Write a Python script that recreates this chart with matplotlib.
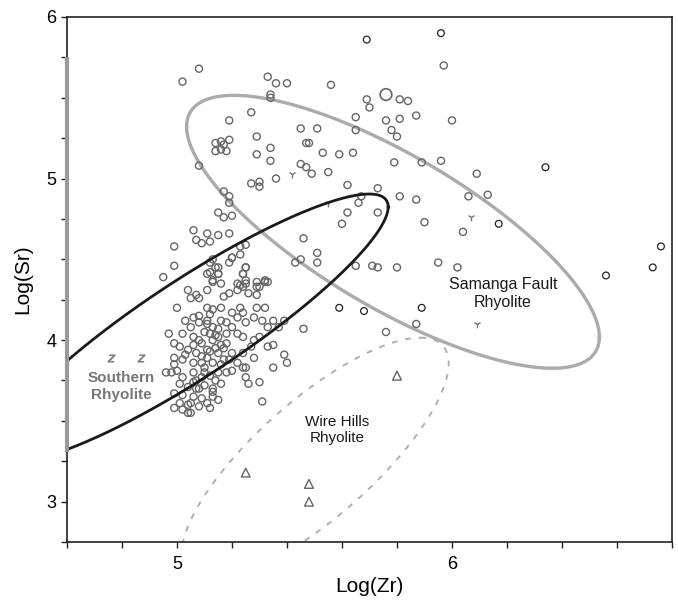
import numpy as np
import matplotlib
matplotlib.use("Agg")
import matplotlib.pyplot as plt

plt.rcParams['font.family'] = ['Liberation Sans', 'DejaVu Sans']

# ---------------- data (Log Zr, Log Sr) ----------------
grey_x = [5.08, 5.02, 5.33, 5.36, 5.40, 5.56, 5.34, 5.34, 5.27, 5.19, 5.45, 5.51, 5.29,
          5.14, 5.16, 5.17, 5.19, 5.14, 5.16, 5.18, 5.34, 5.47, 5.48, 5.53, 5.59, 5.64,
          5.29, 5.34, 5.45, 5.47, 5.49, 5.55, 5.08, 5.27, 5.30, 5.30, 5.36, 5.17, 5.19,
          5.19, 5.15, 5.17, 5.20, 5.06, 5.07, 5.09, 5.11, 5.15, 5.12, 5.19, 4.99, 4.99,
          4.95, 5.46, 5.51, 5.51, 5.43, 5.45, 5.23, 5.25, 5.20, 5.25, 5.12, 5.15, 5.11,
          5.15, 5.13, 5.24, 5.25, 5.29, 5.33,
          5.69, 5.70, 5.81, 5.84, 5.65, 5.65, 5.76, 5.81, 5.87, 6.00, 5.78, 5.80, 5.79,
          5.89, 5.96, 6.09, 6.13, 6.06, 5.81, 5.87, 5.62, 5.67, 5.66, 5.73, 5.73, 5.62,
          5.60, 5.90, 6.04, 5.71, 5.73, 5.65, 5.80, 5.95, 6.02, 5.97,
          5.87, 5.76, 5.46, 5.39, 5.39, 5.40, 5.35, 5.30, 5.26, 5.31, 5.25,
          4.97, 4.99, 4.99, 4.99, 4.98, 4.96,
          5.00, 5.04, 5.07, 5.08, 5.11, 5.05, 5.11, 5.13, 5.16, 5.17, 5.19, 5.22, 5.24,
          5.26, 5.29, 5.32, 5.29, 5.32, 5.23, 5.24, 5.20, 5.03, 5.06, 5.08, 5.11, 5.13,
          5.16, 5.18, 5.22, 5.25, 5.28, 5.31, 5.33, 5.37, 5.35, 5.02, 5.06, 5.08, 5.12,
          5.15, 5.18, 5.22, 5.24, 5.28, 5.30, 5.33, 5.35, 5.01, 5.04, 5.07, 5.11, 5.15,
          5.17, 5.20, 5.24, 5.27, 5.02, 5.06, 5.09, 5.13, 5.16, 5.19, 5.22, 5.25, 5.28,
          5.00, 5.02, 5.06, 5.09, 5.12, 5.15, 5.18, 5.20, 5.24, 5.01, 5.04, 5.07, 5.10,
          5.13, 5.16, 4.99, 5.02, 5.06, 5.09, 5.13, 5.01, 5.05, 5.08, 5.11, 5.15, 5.02,
          5.05, 4.99, 5.04,
          5.13, 5.14, 5.19, 5.20, 5.23, 5.12, 5.15, 5.16, 5.13, 5.25, 5.24, 5.25, 5.23,
          5.22, 5.29, 5.32, 5.30,
          5.10, 5.13, 5.09, 5.14, 5.11, 5.12, 5.15, 5.10, 5.07, 5.14, 5.18, 5.20, 5.08,
          5.05, 5.11, 5.12, 5.09, 5.14, 5.17, 5.06, 5.10, 5.13, 5.03, 5.16, 5.08, 5.12,
          5.04, 5.06]
grey_y = [5.68, 5.60, 5.63, 5.59, 5.59, 5.58, 5.52, 5.50, 5.41, 5.36, 5.31, 5.31, 5.26,
          5.22, 5.23, 5.21, 5.24, 5.17, 5.18, 5.17, 5.19, 5.22, 5.22, 5.16, 5.15, 5.16,
          5.15, 5.11, 5.09, 5.07, 5.03, 5.04, 5.08, 4.97, 4.98, 4.95, 5.00, 4.92, 4.89,
          4.85, 4.79, 4.76, 4.77, 4.68, 4.62, 4.60, 4.66, 4.65, 4.61, 4.66, 4.58, 4.46,
          4.39, 4.63, 4.54, 4.48, 4.48, 4.50, 4.58, 4.59, 4.51, 4.45, 4.48, 4.45, 4.41,
          4.41, 4.36, 4.41, 4.35, 4.33, 4.36,
          5.49, 5.44, 5.49, 5.48, 5.38, 5.30, 5.36, 5.37, 5.39, 5.36, 5.30, 5.26, 5.10,
          5.10, 5.11, 5.03, 4.90, 4.89, 4.89, 4.87, 4.96, 4.89, 4.85, 4.94, 4.79, 4.79,
          4.72, 4.73, 4.67, 4.46, 4.45, 4.46, 4.45, 4.48, 4.45, 5.70,
          4.10, 4.05, 4.07, 4.12, 3.91, 3.86, 3.83, 3.74, 3.73, 3.62, 3.77,
          4.04, 3.98, 3.89, 3.85, 3.80, 3.80,
          4.20, 4.31, 4.28, 4.26, 4.31, 4.26, 4.20, 4.19, 4.20, 4.27, 4.29, 4.35, 4.33,
          4.29, 4.28, 4.37, 4.20, 4.20, 4.20, 4.17, 4.17, 4.12, 4.14, 4.11, 4.12, 4.08,
          4.12, 4.11, 4.14, 4.11, 4.14, 4.12, 4.08, 4.08, 4.12, 4.04, 4.02, 4.00, 4.04,
          4.02, 4.04, 4.04, 4.02, 4.00, 4.02, 3.96, 3.97, 3.96, 3.94, 3.92, 3.94, 3.92,
          3.95, 3.92, 3.92, 3.96, 3.88, 3.86, 3.86, 3.86, 3.85, 3.88, 3.86, 3.83, 3.89,
          3.81, 3.77, 3.80, 3.77, 3.78, 3.80, 3.80, 3.81, 3.83, 3.73, 3.71, 3.70, 3.72,
          3.70, 3.73, 3.67, 3.66, 3.65, 3.64, 3.65, 3.61, 3.61, 3.59, 3.61, 3.63, 3.57,
          3.55, 3.58, 3.55,
          4.50, 4.45, 4.48, 4.51, 4.53, 4.42, 4.41, 4.35, 4.37, 4.45, 4.41, 4.37, 4.34,
          4.31, 4.36, 4.36, 4.33,
          4.05, 4.00, 3.98, 3.95, 3.89, 4.16, 4.07, 3.83, 3.75, 3.75, 3.98, 4.08, 4.15,
          4.08, 4.10, 3.93, 3.90, 4.03, 3.88, 3.97, 3.80, 3.68, 3.91, 3.97, 3.70, 3.58,
          3.60, 3.74]

large_x = [5.76]
large_y = [5.52]

black_x = [5.69, 5.96, 6.34, 6.17, 6.76, 6.73, 6.56, 5.59, 5.68, 5.89]
black_y = [5.86, 5.90, 5.07, 4.72, 4.58, 4.45, 4.40, 4.20, 4.18, 4.20]

y_mark_x = [5.42, 6.07, 6.09, 5.55]
y_mark_y = [5.03, 4.76, 4.10, 4.85]

z_mark_x = [4.76, 4.87]
z_mark_y = [3.89, 3.89]

tri_x = [5.25, 5.48, 5.48, 5.80]
tri_y = [3.18, 3.11, 3.00, 3.78]

# ellipses: centre, conjugate semi-diameters u and v  (point = c + u cos t + v sin t)
southern_c = [5.055, 4.075]
southern_u = [0.713, 0.749]
southern_v = [0.0, 0.356]

samanga_c = [5.7855, 4.6705]
samanga_u = [0.7505, -0.651]
samanga_v = [0.0, 0.538]

wire_c = [5.502, 3.265]
wire_u = [0.3825, 0.75]
wire_v = [0.30, 0.0]

labels = ["Southern\nRhyolite", "Samanga Fault\nRhyolite", "Wire Hills\nRhyolite"]
label_x = [4.796, 6.185, 5.584]
label_y = [3.715, 4.29, 3.443]

spine_band = [3.31, 5.75]

# ---------------- figure ----------------
fig = plt.figure(figsize=(6.78, 6.07), dpi=100)
ax = fig.add_axes([0.0988, 0.107, 0.8923, 0.865])

t = np.linspace(0, 2 * np.pi, 400)
def ell(c, u, v):
    return (c[0] + u[0] * np.cos(t) + v[0] * np.sin(t),
            c[1] + u[1] * np.cos(t) + v[1] * np.sin(t))

ex, ey = ell(samanga_c, samanga_u, samanga_v)
ax.plot(ex, ey, color='#ababab', lw=2.4, zorder=2)
ex, ey = ell(wire_c, wire_u, wire_v)
ax.plot(ex, ey, color='#b0b0b0', lw=1.4, ls=(0, (3, 4)), zorder=2)

ax.scatter(grey_x, grey_y, s=26, facecolors='none', edgecolors='#666666',
           linewidths=1.0, zorder=3)
ax.scatter(large_x, large_y, s=70, facecolors='none', edgecolors='#666666',
           linewidths=1.2, zorder=3)
ax.scatter(black_x, black_y, s=24, facecolors='none', edgecolors='#222222',
           linewidths=0.9, zorder=3)
ax.scatter(y_mark_x, y_mark_y, s=30, marker='1', color='#777777', linewidths=1.0, zorder=3)
ax.scatter(z_mark_x, z_mark_y, s=28, marker='$z$', color='#777777', linewidths=0.4, zorder=3)
ax.scatter(tri_x, tri_y, s=40, marker='^', facecolors='none', edgecolors='#666666',
           linewidths=1.0, zorder=3)

ex, ey = ell(southern_c, southern_u, southern_v)
ax.plot(ex, ey, color='#1a1a1a', lw=2.0, zorder=4)

ax.text(label_x[0], label_y[0], labels[0], ha='center', va='center', fontsize=11,
        color='#777777', fontweight='bold', linespacing=1.25)
ax.text(label_x[1], label_y[1], labels[1], ha='center', va='center', fontsize=11.5,
        color='#1a1a1a', linespacing=1.25)
ax.text(label_x[2], label_y[2], labels[2], ha='center', va='center', fontsize=11,
        color='#1a1a1a', linespacing=1.25)

ax.plot([4.6, 4.6], spine_band, color='#999999', lw=3, solid_capstyle='butt',
        clip_on=False, zorder=5)

ax.set_xlim(4.6, 6.8)
ax.set_ylim(2.75, 6.0)
ax.set_xticks([5, 6])
ax.set_xticks(np.arange(4.6, 6.81, 0.2), minor=True)
ax.set_yticks([3, 4, 5, 6])
ax.set_yticks(np.arange(2.75, 6.01, 0.25), minor=True)
ax.set_xticklabels(['5', '6'])
ax.set_yticklabels(['3', '4', '5', '6'])
ax.tick_params(which='both', direction='out', length=4, width=1, labelsize=13,
               top=False, right=False, color='#222222')
ax.tick_params(axis='x', pad=6)

for sp in ax.spines.values():
    sp.set_linewidth(1.2)
    sp.set_color('#222222')

ax.set_xlabel('Log(Zr)', fontsize=15, labelpad=3)
ax.set_ylabel('Log(Sr)', fontsize=15, labelpad=10)

fig.savefig('out.png', dpi=100)
